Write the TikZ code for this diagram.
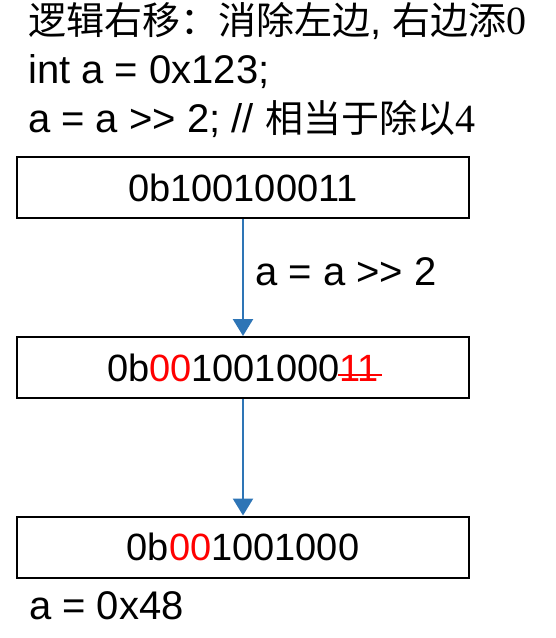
\documentclass[tikz,border=0pt]{standalone}
\usepackage{fontspec}
\setmainfont{Liberation Sans}
\newfontfamily\cjk[Scale=0.95]{Noto Sans CJK SC}
\newfontfamily\serifd{Liberation Serif}
\usetikzlibrary{arrows.meta}
\definecolor{arrowblue}{RGB}{46,117,182}
\definecolor{pred}{RGB}{255,0,0}
\newcommand\gtgt{>\kern0pt>}
\begin{document}
\begin{tikzpicture}[x=1pt,y=-1pt,
  txt/.style={inner sep=0pt, anchor=base west, font=\fontsize{40}{42}\selectfont},
  bitbox/.style={draw=black, line width=2pt, minimum width=452pt, minimum height=61pt, inner sep=0pt, font=\fontsize{38}{40}\selectfont},
  flow/.style={draw=arrowblue, line width=2.5pt, -{Triangle[width=20pt,length=17pt]}}]
\useasboundingbox (0,0) rectangle (556,638);
\node[txt] (l1) at (28,34) {{\cjk 逻辑右移：消除左边}, {\cjk 右边添}{\serifd 0}};
\node[txt] (l2) at (28,83.5) {int a = 0x123;};
\node[txt] (l3) at (28,132) {a = a \gtgt{} 2; // {\cjk 相当于除以}{\serifd 4}};
\node[bitbox] (b1) at (243,187.5) {0b100100011};
\node[bitbox] (b2) at (243,367.5) {0b\textcolor{pred}{00}1001000\textcolor{pred}{\rlap{\kern-2pt\rule[5.5pt]{44pt}{2pt}}11}};
\node[bitbox] (b3) at (243,547) {0b\textcolor{pred}{00}1001000};
\draw[flow] (b1) -- (b2);
\draw[flow] (b2) -- (b3);
\node[txt] (lab) at (255,285) {a = a \gtgt{} 2};
\node[txt] (res) at (29,619) {a = 0x48};
\end{tikzpicture}
\end{document}
